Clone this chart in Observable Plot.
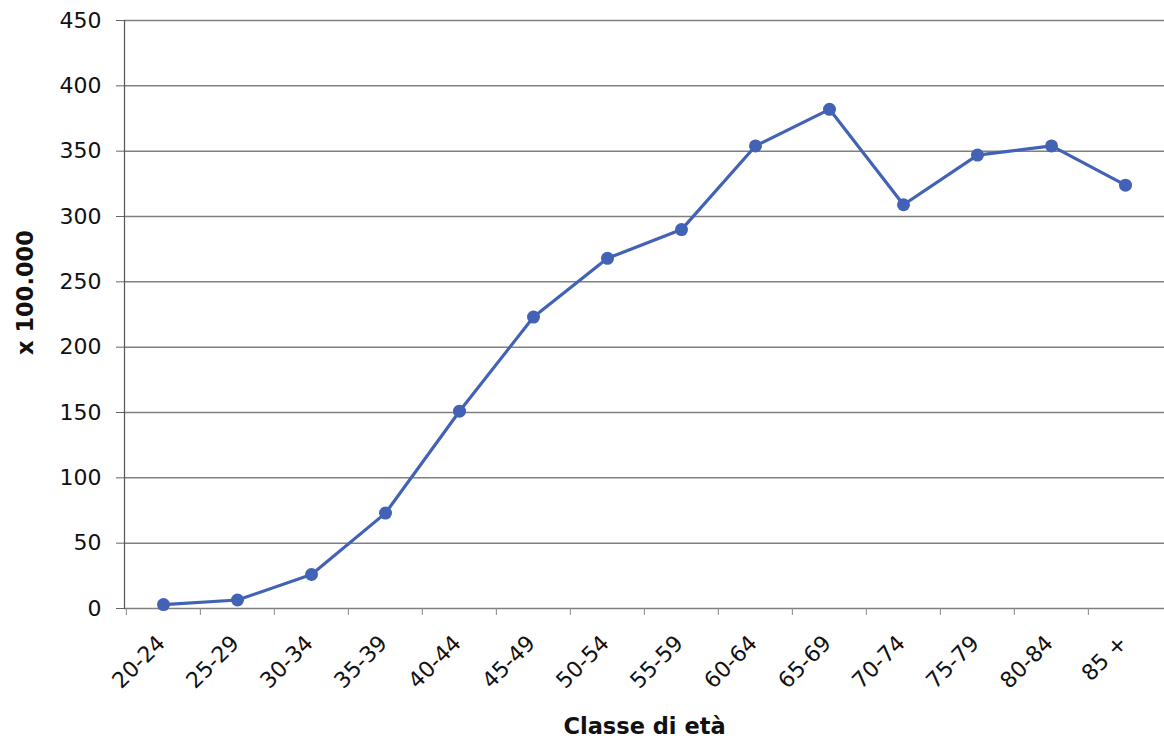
<!DOCTYPE html>
<html>
<head>
<meta charset="utf-8">
<script src="https://cdn.jsdelivr.net/npm/d3@7"></script>
<script src="https://cdn.jsdelivr.net/npm/@observablehq/plot@0.6"></script>
<style>
  body { margin: 0; background: white; }
</style>
</head>
<body>
<div id="chart"></div>
<script>
const ages = ["20-24","25-29","30-34","35-39","40-44","45-49","50-54","55-59","60-64","65-69","70-74","75-79","80-84","85 +"];
const values = [3, 6.5, 26, 73, 151, 223, 268, 290, 354, 382, 309, 347, 354, 324];
const yTicks = [0, 50, 100, 150, 200, 250, 300, 350, 400, 450];
const yLabel = "x 100.000";
const xLabel = "Classe di età";

const data = ages.map((a, i) => ({age: a, value: values[i]}));

const W = 1164, ML = 124, MR = 0;
const step = (W - ML - MR) / ages.length;
const blue = "#4262b6";

const chart = Plot.plot({
  width: W,
  height: 740,
  marginLeft: ML,
  marginRight: MR,
  marginTop: 20,
  marginBottom: 132,
  style: {fontFamily: "'DejaVu Sans', Verdana, sans-serif", fontSize: "22px", background: "white", color: "#111"},
  x: {type: "point", domain: ages, padding: 0.5, label: null},
  y: {domain: [0, 450], label: null},
  marks: [
    Plot.gridY(yTicks, {stroke: "#808080", strokeOpacity: 1, strokeWidth: 1.5}),
    Plot.axisY({ticks: yTicks, tickSize: 8, tickPadding: 15, label: null, stroke: "#666", fontSize: 22}),
    Plot.axisX({tickSize: 0, tickRotate: -45, tickPadding: 31, dx: -2, label: null, fontSize: 22}),
    Plot.axisX({text: null, tickSize: 7, dx: -step / 2, label: null, stroke: "#888"}),
    Plot.frame({anchor: "left", stroke: "#555", strokeWidth: 1.2}),
    Plot.line(data, {x: "age", y: "value", stroke: blue, strokeWidth: 3.2}),
    Plot.dot(data, {x: "age", y: "value", r: 6.5, fill: blue, stroke: "none"}),
    Plot.text([yLabel], {text: d => d, frameAnchor: "left", textAnchor: "middle", lineAnchor: "middle", rotate: -90, dx: -99, dy: -22, fontWeight: "bold", fontSize: 22.5}),
    Plot.text([xLabel], {text: d => d, frameAnchor: "bottom", textAnchor: "middle", lineAnchor: "middle", dy: 118, fontWeight: "bold", fontSize: 22.5})
  ]
});
document.getElementById("chart").append(chart);
</script>
</body>
</html>
